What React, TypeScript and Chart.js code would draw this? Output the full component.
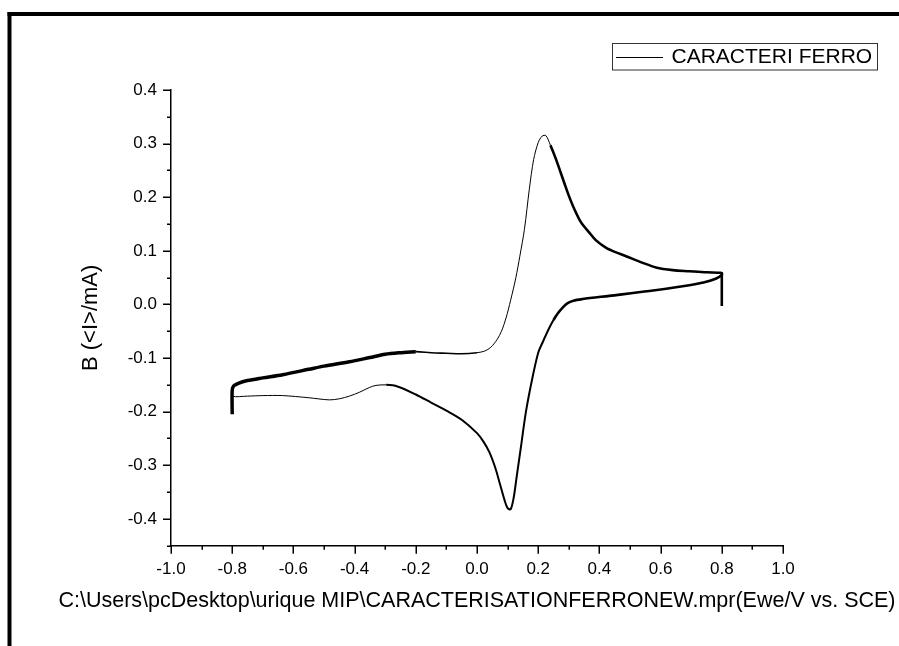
import React, { useEffect, useRef } from "react";
import { Chart, registerables } from "chart.js";

Chart.register(...registerables);

// Cyclic voltammogram path (potential E / V, current I / mA), in scan order.
const E: (number | null)[] = [
  -0.8, -0.8,
  -0.795, -0.78, -0.75, -0.7, -0.635, -0.55, -0.5, -0.417, -0.35, -0.3, -0.25, -0.2,
  -0.15, -0.1, -0.05, 0.0, 0.025, 0.045, 0.065, 0.08, 0.095, 0.11, 0.127, 0.14, 0.155, 0.171,
  0.185, 0.2, 0.213, 0.225, 0.24, 0.258, 0.285, 0.3, 0.318, 0.34, 0.367, 0.39, 0.421, 0.45,
  0.487, 0.54, 0.585, 0.64, 0.694, 0.75, 0.797, 0.8,
  0.8, 0.78, 0.74, 0.672, 0.563, 0.432, 0.345, 0.315, 0.295, 0.28, 0.265, 0.25, 0.236,
  0.215, 0.2, 0.18, 0.16, 0.145, 0.13, 0.12, 0.11, 0.1, 0.09, 0.075, 0.06, 0.04,
  0.02, 0.0, -0.05, -0.1, -0.15, -0.2, -0.26, -0.297, -0.33, -0.352, -0.385, -0.417, -0.45, -0.483,
  -0.55, -0.635, -0.7, -0.75, -0.8, -0.8,
  null,
  0.8, 0.8,
];
const I: (number | null)[] = [
  -0.205, -0.16,
  -0.152, -0.147, -0.142, -0.137, -0.131, -0.121, -0.115, -0.107, -0.099, -0.093, -0.09, -0.088,
  -0.09, -0.091, -0.092, -0.09, -0.087, -0.08, -0.066, -0.05, -0.025, 0.008, 0.05, 0.09, 0.14, 0.215,
  0.27, 0.302, 0.314, 0.315, 0.297, 0.271, 0.227, 0.203, 0.178, 0.153, 0.134, 0.119, 0.106, 0.098,
  0.09, 0.078, 0.069, 0.064, 0.062, 0.06, 0.059, 0.058,
  0.055, 0.048, 0.041, 0.034, 0.025, 0.016, 0.01, 0.007, 0.002, -0.006, -0.016, -0.029, -0.044,
  -0.07, -0.09, -0.14, -0.2, -0.26, -0.32, -0.36, -0.382, -0.38, -0.365, -0.335, -0.305, -0.275,
  -0.255, -0.24, -0.215, -0.198, -0.183, -0.168, -0.153, -0.15, -0.151, -0.155, -0.164, -0.171, -0.176, -0.178,
  -0.174, -0.17, -0.17, -0.171, -0.171, -0.16,
  null,
  0.06, -0.003,
];

const xMajor = [-1.0, -0.8, -0.6, -0.4, -0.2, 0.0, 0.2, 0.4, 0.6, 0.8, 1.0];
const xMinor = [-0.9, -0.7, -0.5, -0.3, -0.1, 0.1, 0.3, 0.5, 0.7, 0.9];
const yMajor = [-0.4, -0.3, -0.2, -0.1, 0.0, 0.1, 0.2, 0.3, 0.4];
const yMinor = [-0.45, -0.35, -0.25, -0.15, -0.05, 0.05, 0.15, 0.25, 0.35];

const seriesLabel = "CARACTERI FERRO";
const xTitle = "C:\\Users\\pcDesktop\\urique MIP\\CARACTERISATIONFERRONEW.mpr(Ewe/V vs. SCE)";
const yTitle = "B (<I>/mA)";

const FONT = "'Liberation Sans', Arial, Helvetica, sans-serif";

export default function App() {
  const ref = useRef<HTMLCanvasElement | null>(null);

  useEffect(() => {
    if (!ref.current) return;
    const data = E.map((x, i) => ({ x: x as any, y: I[i] as any }));
    let turn = 0;
    for (let i = 0; i < E.length; i++) {
      if (E[i] === 0.8) { turn = i; break; }
    }

    const decor = {
      id: "decor",
      afterDraw(chart: any) {
        const ctx = chart.ctx as CanvasRenderingContext2D;
        const area = chart.chartArea;
        const xs = chart.scales.x;
        const ys = chart.scales.y;
        ctx.save();
        // frame
        ctx.fillStyle = "#000";
        ctx.fillRect(7.5, 12, 4, 646 - 12);
        ctx.fillRect(7.5, 12, 899 - 7.5, 4);
        // ticks
        ctx.strokeStyle = "#000";
        ctx.lineWidth = 1.5;
        ctx.beginPath();
        xMajor.forEach((v) => {
          const p = Math.round(xs.getPixelForValue(v)) + 0.25;
          ctx.moveTo(p, area.bottom);
          ctx.lineTo(p, area.bottom + 8);
        });
        xMinor.forEach((v) => {
          const p = Math.round(xs.getPixelForValue(v)) + 0.25;
          ctx.moveTo(p, area.bottom);
          ctx.lineTo(p, area.bottom + 4);
        });
        yMajor.forEach((v) => {
          const p = Math.round(ys.getPixelForValue(v)) + 0.25;
          ctx.moveTo(area.left, p);
          ctx.lineTo(area.left - 8, p);
        });
        yMinor.forEach((v) => {
          const p = Math.round(ys.getPixelForValue(v)) + 0.25;
          ctx.moveTo(area.left, p);
          ctx.lineTo(area.left - 4, p);
        });
        ctx.stroke();
        // x axis title (drawn without width compression)
        ctx.fillStyle = "#000";
        ctx.font = `21.5px ${FONT}`;
        ctx.textBaseline = "middle";
        ctx.textAlign = "center";
        ctx.fillText(xs.options.title.text, (area.left + area.right) / 2, 601.5);
        // legend
        ctx.lineWidth = 1;
        ctx.strokeStyle = "#333";
        ctx.strokeRect(612.5, 43.5, 265, 26.5);
        ctx.strokeStyle = "#000";
        ctx.beginPath();
        ctx.moveTo(616, 57.5);
        ctx.lineTo(663, 57.5);
        ctx.stroke();
        ctx.font = `21px ${FONT}`;
        ctx.textAlign = "left";
        ctx.fillText(chart.data.datasets[0].label, 671.5, 57.5);
        ctx.restore();
      },
    };

    const chart = new Chart(ref.current, {
      type: "line",
      data: {
        datasets: [
          {
            label: seriesLabel,
            data,
            borderColor: "#000",
            borderWidth: 1,
            pointRadius: 0,
            tension: 0.3,
            fill: false,
            spanGaps: false,
            segment: {
              borderWidth: (c: any) => {
                const i = c.p0DataIndex;
                const x = (c.p0.parsed.x + c.p1.parsed.x) / 2;
                if (i < turn) {
                  if (x < -0.22) return 3.5;
                  if (x < 0.0) return 1.6;
                  if (x > 0.235) return 2.6;
                  return 1;
                }
                if (x > 0.25) return 2.6;
                if (x > -0.28) return 2;
                return 1;
              },
            },
          } as any,
        ],
      },
      options: {
        animation: false,
        responsive: false,
        devicePixelRatio: 1,
        layout: { padding: { left: 0, top: 90, right: 116, bottom: 0 } },
        plugins: { legend: { display: false }, tooltip: { enabled: false } },
        scales: {
          x: {
            type: "linear",
            min: -1,
            max: 1,
            afterBuildTicks: (s: any) => {
              s.ticks = xMajor.map((v) => ({ value: v }));
            },
            afterFit: (s: any) => {
              s.height = 100.3;
            },
            grid: { display: false, drawTicks: false },
            border: { display: true, color: "#000", width: 1.5 },
            ticks: {
              autoSkip: false,
              maxRotation: 0,
              padding: 13,
              color: "#000",
              font: { family: FONT, size: 17 },
              callback: (v: any) => Number(v).toFixed(1),
            },
            title: {
              display: false,
              text: xTitle,
            },
          },
          y: {
            type: "linear",
            min: -0.45,
            max: 0.4,
            afterBuildTicks: (s: any) => {
              s.ticks = yMajor.map((v) => ({ value: v }));
            },
            afterFit: (s: any) => {
              s.width = 171;
            },
            grid: { display: false, drawTicks: false },
            border: { display: true, color: "#000", width: 1.5 },
            ticks: {
              autoSkip: false,
              padding: 14,
              color: "#000",
              font: { family: FONT, size: 17 },
              callback: (v: any) => Number(v).toFixed(1),
            },
            title: {
              display: true,
              text: yTitle,
              color: "#000",
              font: { family: FONT, size: 22 },
              padding: { top: 77.5, bottom: 0 },
            },
          },
        },
      },
      plugins: [decor],
    });
    return () => chart.destroy();
  }, []);

  return (
    <div style={{ position: "absolute", left: 0, top: 0, width: 899, height: 646, background: "#fff" }}>
      <canvas ref={ref} width={899} height={646} style={{ display: "block" }} />
    </div>
  );
}
